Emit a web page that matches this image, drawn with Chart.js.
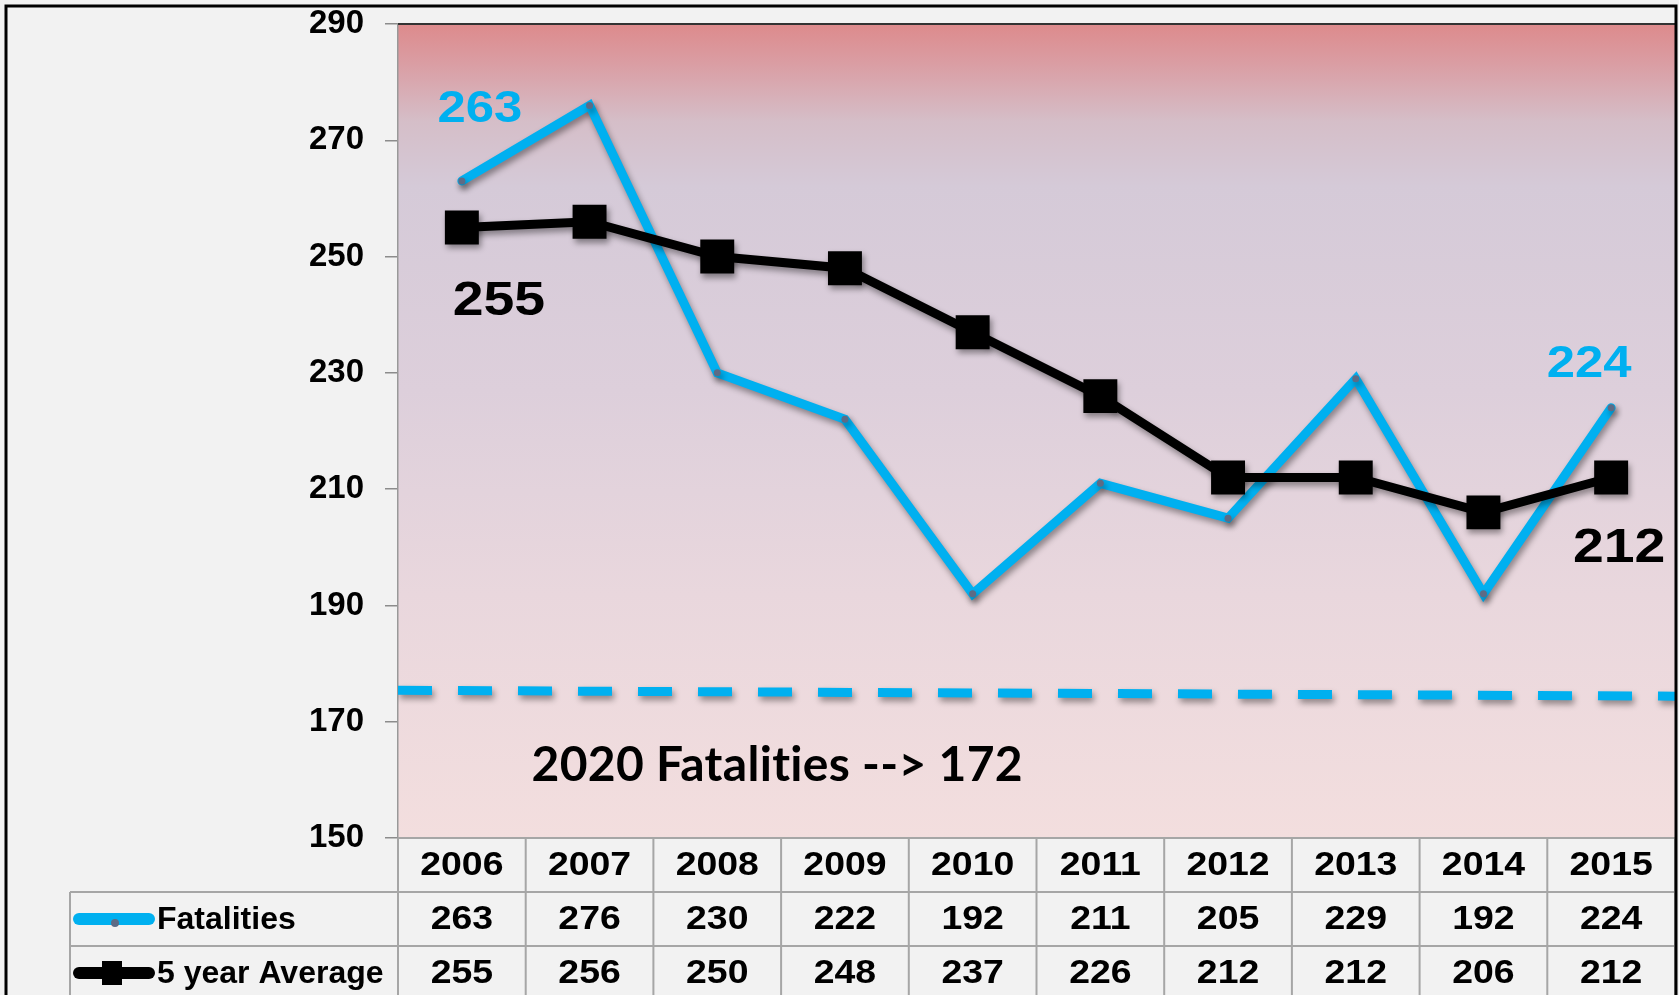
<!DOCTYPE html>
<html><head><meta charset="utf-8">
<script src="https://cdn.jsdelivr.net/npm/chart.js@4.4.1/dist/chart.umd.min.js"></script>
<style>html,body{margin:0;padding:0;background:#f2f2f2;overflow:hidden}#wrap{position:relative;width:1679px;height:995px}</style>
</head><body><div id="wrap"><canvas id="c"></canvas></div>
<script>
const years = ['2006','2007','2008','2009','2010','2011','2012','2013','2014','2015'];
const fatalities = [263, 276, 230, 222, 192, 211, 205, 229, 192, 224];
const fiveYearAverage = [255, 256, 250, 248, 237, 226, 212, 212, 206, 212];
const seriesNames = ['Fatalities', '5 year Average'];
const yTicks = [150, 170, 190, 210, 230, 250, 270, 290];
const targetLine = [175.4, 174.4];
const targetText = '2020 Fatalities --> 172';

const BLUE = '#00b0f0';
const FONT = "'Liberation Sans', Arial, sans-serif";

function stretchText(ctx, text, x, y, stretch) {
  ctx.save();
  ctx.translate(x, y);
  ctx.scale(stretch, 1);
  ctx.fillText(text, 0, 0);
  ctx.restore();
}

const bgPlugin = {
  id: 'bg',
  beforeDraw(chart) {
    const {ctx, chartArea: a} = chart;
    ctx.save();
    ctx.fillStyle = '#f2f2f2';
    ctx.fillRect(0, 0, chart.width, chart.height);
    const g = ctx.createLinearGradient(0, a.top, 0, a.bottom);
    g.addColorStop(0, 'rgb(221,138,140)');
    g.addColorStop(0.05, 'rgb(218,158,164)');
    g.addColorStop(0.12, 'rgb(213,190,200)');
    g.addColorStop(0.2, 'rgb(213,202,216)');
    g.addColorStop(0.45, 'rgb(221,207,219)');
    g.addColorStop(0.7, 'rgb(233,215,221)');
    g.addColorStop(1, 'rgb(243,222,222)');
    ctx.fillStyle = g;
    ctx.fillRect(a.left, a.top, a.right - a.left, a.bottom - a.top);
    ctx.restore();
  }
};

const shadowPlugin = {
  id: 'shadow',
  beforeDatasetDraw(chart) {
    const ctx = chart.ctx;
    ctx.save();
    ctx.shadowColor = 'rgba(0,0,0,0.4)';
    ctx.shadowBlur = 6;
    ctx.shadowOffsetX = 2;
    ctx.shadowOffsetY = 4;
  },
  afterDatasetDraw(chart) { chart.ctx.restore(); }
};

const labelPlugin = {
  id: 'labels',
  afterDatasetsDraw(chart) {
    const ctx = chart.ctx;
    const fm = chart.getDatasetMeta(0).data;
    const am = chart.getDatasetMeta(1).data;
    const last = years.length - 1;
    const specs = [
      {p: fm[0], v: fatalities[0], c: BLUE, s: 45, dx: 18, dy: -71},
      {p: am[0], v: fiveYearAverage[0], c: '#000', s: 49, dx: 37, dy: 74},
      {p: fm[last], v: fatalities[last], c: BLUE, s: 45, dx: -22, dy: -43},
      {p: am[last], v: fiveYearAverage[last], c: '#000', s: 49, dx: 8, dy: 71}
    ];
    ctx.save();
    ctx.textAlign = 'center';
    ctx.textBaseline = 'middle';
    specs.forEach(o => {
      ctx.font = 'bold ' + o.s + 'px ' + FONT;
      ctx.fillStyle = o.c;
      stretchText(ctx, String(o.v), o.p.x + o.dx, o.p.y + o.dy, 1.13);
    });
    // target annotation
    const xs = chart.scales.x, ys = chart.scales.y;
    ctx.font = "bold 48px Lato, 'Open Sans', sans-serif";
    ctx.letterSpacing = '0.3px';
    ctx.fillStyle = '#000';
    ctx.fillText(targetText, xs.getPixelForValue(2.47), ys.getPixelForValue(162.5));
    ctx.restore();
  }
};

const tablePlugin = {
  id: 'table',
  afterDraw(chart) {
    const {ctx, chartArea: a} = chart;
    const xs = chart.scales.x;
    const colW = (a.right - a.left) / years.length;
    const rowH = 54;
    const r0 = a.bottom, r1 = r0 + rowH, r2 = r1 + rowH, r3 = r2 + rowH;
    const tableLeft = 70;
    ctx.save();
    // plot top border
    ctx.strokeStyle = '#333';
    ctx.lineWidth = 2;
    ctx.beginPath(); ctx.moveTo(a.left, a.top); ctx.lineTo(a.right, a.top); ctx.stroke();
    // grid
    ctx.strokeStyle = '#a6a6a6';
    ctx.lineWidth = 2;
    ctx.beginPath();
    for (let i = 0; i <= years.length; i++) {
      const x = a.left + i * colW;
      ctx.moveTo(x, r0); ctx.lineTo(x, r3);
    }
    ctx.moveTo(a.left, r0); ctx.lineTo(a.right, r0);
    ctx.moveTo(tableLeft, r1); ctx.lineTo(a.right, r1);
    ctx.moveTo(tableLeft, r2); ctx.lineTo(a.right, r2);
    ctx.moveTo(tableLeft, r1); ctx.lineTo(tableLeft, r3);
    ctx.stroke();
    // text
    ctx.fillStyle = '#000';
    ctx.font = 'bold 34px ' + FONT;
    ctx.textAlign = 'center';
    ctx.textBaseline = 'middle';
    years.forEach((y, i) => {
      const x = xs.getPixelForValue(i);
      stretchText(ctx, y, x, r0 + rowH / 2 + 1, 1.1);
      stretchText(ctx, String(fatalities[i]), x, r1 + rowH / 2 + 1, 1.1);
      stretchText(ctx, String(fiveYearAverage[i]), x, r2 + rowH / 2 + 1, 1.1);
    });
    ctx.font = 'bold 32px ' + FONT;
    ctx.textAlign = 'left';
    ctx.fillText(seriesNames[0], 157, r1 + rowH / 2 + 1);
    ctx.fillText(seriesNames[1], 157, r2 + rowH / 2 + 1);
    // legend samples
    ctx.lineCap = 'round';
    ctx.lineWidth = 12;
    ctx.strokeStyle = BLUE;
    ctx.beginPath(); ctx.moveTo(79, r1 + rowH / 2); ctx.lineTo(149, r1 + rowH / 2); ctx.stroke();
    ctx.fillStyle = '#5d6b85';
    ctx.beginPath(); ctx.arc(115, r1 + rowH / 2 + 4, 4, 0, Math.PI * 2); ctx.fill();
    ctx.strokeStyle = '#000';
    ctx.beginPath(); ctx.moveTo(79, r2 + rowH / 2); ctx.lineTo(149, r2 + rowH / 2); ctx.stroke();
    ctx.fillStyle = '#000';
    ctx.fillRect(102, r2 + rowH / 2 - 12, 20, 24);
    // outer frame
    ctx.strokeStyle = '#000';
    ctx.lineWidth = 3;
    ctx.lineCap = 'butt';
    ctx.beginPath();
    ctx.moveTo(6, chart.height + 5); ctx.lineTo(6, 6); ctx.lineTo(1676, 6); ctx.lineTo(1676, chart.height + 5);
    ctx.stroke();
    ctx.restore();
  }
};

new Chart(document.getElementById('c'), {
  type: 'line',
  data: {
    labels: years,
    datasets: [
      {
        label: seriesNames[0], data: fatalities, order: 2,
        borderColor: BLUE, borderWidth: 9, borderCapStyle: 'round', borderJoinStyle: 'miter',
        pointRadius: 3.5, pointBackgroundColor: '#5d6b85', pointBorderWidth: 0, tension: 0, clip: false
      },
      {
        label: seriesNames[1], data: fiveYearAverage, order: 1,
        borderColor: '#000', borderWidth: 9, borderJoinStyle: 'miter',
        pointStyle: 'rect', pointRadius: 24, pointBackgroundColor: '#000', pointBorderColor: '#000', pointBorderWidth: 0, tension: 0, clip: false
      },
      {
        label: 'target', data: [{x: 0, y: targetLine[0]}, {x: 1, y: targetLine[1]}], order: 3,
        xAxisID: 'x2', borderColor: BLUE, borderWidth: 9, borderDash: [34, 26], pointRadius: 0, tension: 0
      }
    ]
  },
  options: {
    responsive: true, maintainAspectRatio: false, animation: false, devicePixelRatio: 1,
    layout: {autoPadding: false, padding: {top: 24, right: 4, bottom: 0, left: 0}},
    plugins: {legend: {display: false}, tooltip: {enabled: false}},
    scales: {
      x: {
        type: 'category', offset: true,
        ticks: {display: false}, grid: {display: false}, border: {display: false},
        afterFit(s) { s.height = 157; }
      },
      x2: {type: 'linear', min: 0, max: 1, display: false},
      y: {
        min: yTicks[0], max: yTicks[yTicks.length - 1],
        afterBuildTicks(s) { s.ticks = yTicks.map(v => ({value: v})); },
        ticks: {color: '#000', font: {family: FONT, weight: 'bold', size: 33}, padding: 21},
        grid: {drawOnChartArea: false, drawTicks: true, tickLength: 13, color: '#8c8c8c', lineWidth: 1.5},
        border: {display: true, color: '#999', width: 1.5},
        afterFit(s) { s.width = 398; s.paddingTop = 0; s.paddingBottom = 0; }
      }
    }
  },
  plugins: [bgPlugin, shadowPlugin, labelPlugin, tablePlugin]
});
</script></body></html>
